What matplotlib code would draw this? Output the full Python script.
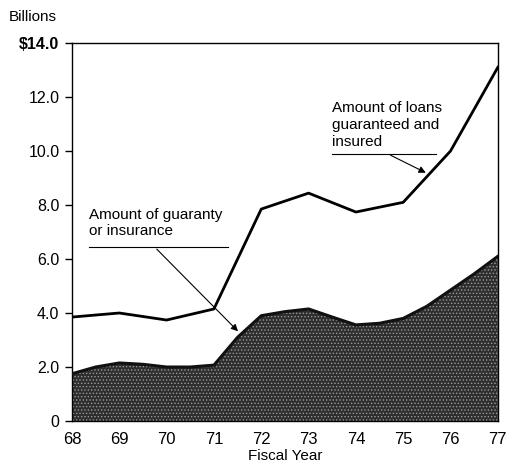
import matplotlib.pyplot as plt

plt.rcParams['font.family'] = ['Liberation Sans', 'DejaVu Sans']
plt.rcParams['hatch.linewidth'] = 0.6

# fiscal years and values (billions of dollars)
years = [68, 69, 70, 71, 72, 73, 74, 75, 76, 77]
loans = [3.85, 4.0, 3.74, 4.15, 7.85, 8.44, 7.74, 8.1, 10.0, 13.1]

guar_years = [68, 68.5, 69, 69.5, 70, 70.5, 71, 71.5, 72, 72.5, 73, 73.5, 74, 74.5, 75, 75.5, 76, 76.5, 77]
guaranty = [1.75, 2.0, 2.15, 2.1, 2.0, 2.0, 2.07, 3.1, 3.9, 4.05, 4.15, 3.85, 3.56, 3.62, 3.8, 4.25, 4.85, 5.45, 6.1]

yticks = [0, 2, 4, 6, 8, 10, 12, 14]
ylabels = ["0", "2.0", "4.0", "6.0", "8.0", "10.0", "12.0", "$14.0"]

fig = plt.figure(figsize=(5.08, 4.65), dpi=100)
ax = fig.add_axes([0.1417, 0.0946, 0.8383, 0.8129])

ax.fill_between(guar_years, 0, guaranty, facecolor='#2e2e2e', edgecolor='#9a9a9a',
                hatch='.....', linewidth=0, zorder=2)
ax.plot(guar_years, guaranty, color='#111111', lw=2.2, zorder=3)
ax.plot(years, loans, color='black', lw=2, zorder=4)

ax.set_xlim(68, 77)
ax.set_ylim(0, 14)
ax.set_xticks(years)
ax.set_xticklabels([str(y) for y in years])
ax.set_yticks(yticks)
ax.set_yticklabels(ylabels)
ax.tick_params(axis='y', direction='out', length=5, width=1, labelsize=11.5, pad=4)
ax.tick_params(axis='x', length=0, labelsize=12, pad=8)
ax.get_yticklabels()[-1].set_fontweight('bold')
for s in ax.spines.values():
    s.set_linewidth(1)
ax.set_xlabel("Fiscal Year", fontsize=11, labelpad=1)
fig.text(0.018, 0.963, "Billions", fontsize=11, ha='left', va='center')

# annotations
ax.text(68.35, 7.9, "Amount of guaranty\nor insurance", fontsize=11,
        ha='left', va='top', linespacing=1.25, zorder=5)
ax.plot([68.35, 71.3], [6.44, 6.44], color='black', lw=0.8, zorder=5)
ax.annotate("", xy=(71.55, 3.25), xytext=(69.75, 6.44),
            arrowprops=dict(arrowstyle='-|>', color='black', lw=0.8, mutation_scale=10),
            zorder=5)

ax.text(73.5, 11.85, "Amount of loans\nguaranteed and\ninsured", fontsize=11,
        ha='left', va='top', linespacing=1.25, zorder=5)
ax.plot([73.5, 75.7], [9.89, 9.89], color='black', lw=0.8, zorder=5)
ax.annotate("", xy=(75.53, 9.15), xytext=(74.68, 9.89),
            arrowprops=dict(arrowstyle='-|>', color='black', lw=0.8, mutation_scale=10),
            zorder=5)

fig.savefig("out.png", dpi=100)
